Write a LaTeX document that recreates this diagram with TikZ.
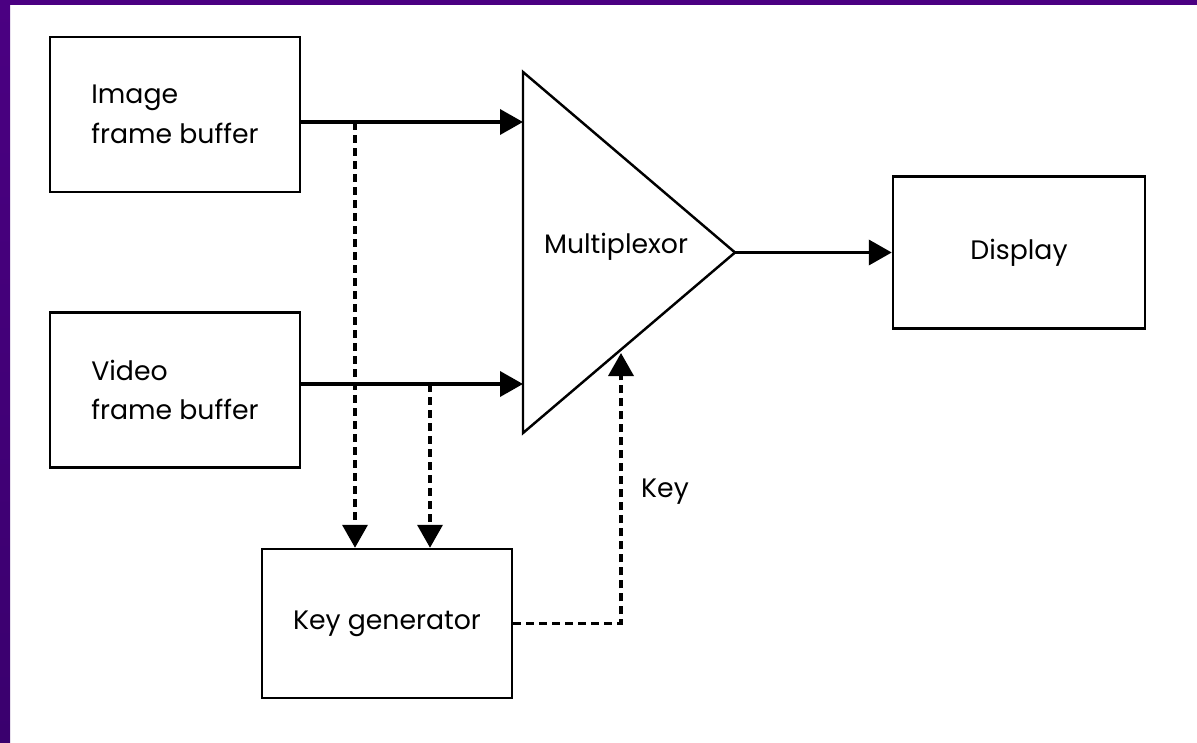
\documentclass[tikz,border=0pt]{standalone}
\usepackage{fontspec}
\setmainfont{Poppins}
\usepackage{tikz}
\usetikzlibrary{arrows.meta,positioning,calc}

\definecolor{framepurple}{RGB}{75,0,130}
\definecolor{framepurpledark}{RGB}{58,0,110}

\begin{document}
\begin{tikzpicture}[
        font=\fontsize{15.2}{22.5}\selectfont,
        >={Triangle[length=0.46cm,width=0.5cm]},
        % Block styles
        block/.style={
            rectangle,
            draw=black,
            line width=1.4pt,
            minimum width=5cm,
            minimum height=3.1cm,
            align=left
        },
        arrow/.style={->, line width=2.1pt},
        dashedarrow/.style={->, line width=2.1pt, dash pattern=on 0.16cm off 0.1cm}
    ]

    % Frame
    \useasboundingbox (0,0) rectangle (23.94,-14.84);
    \fill[white] (0,0) rectangle (23.94,-14.84);
    \shade[top color=framepurple, bottom color=framepurpledark] (0,0) rectangle (0.2,-14.84);
    \fill[framepurple] (0,0) rectangle (23.94,-0.1);

    % Buffers
    \node[block] (img) at (3.5,-2.29) {Image\\frame buffer};
    \node[block] (vid) at (3.5,-7.8) {Video\\frame buffer};

    % Multiplexor
    \coordinate (mtop) at (10.46,-1.44);
    \coordinate (mbot) at (10.46,-8.66);
    \coordinate (mout) at (14.7,-5.05);
    \draw[line width=1.4pt, line join=miter] (mtop) -- (mout) -- (mbot) -- cycle;
    \node (mux) at (12.32,-4.94) {Multiplexor};
    \coordinate (inA) at (10.46,-2.44);
    \coordinate (inB) at (10.46,-7.68);
    \coordinate (keyin) at (12.42,-7.06);
    \coordinate (tapA) at (7.1,-2.44);
    \coordinate (tapB) at (8.6,-7.68);

    % Display
    \node[block, minimum width=5.04cm, minimum height=3.04cm] (disp) at (20.38,-5.05) {Display};

    % Key generator
    \node[block, minimum height=2.98cm] (kgen) at (7.74,-12.47) {Key generator};
    \node (keylbl) at (13.3,-9.84) {Key};

    % Connections
    \draw[arrow] (img.east |- inA) -- (inA);
    \draw[arrow] (vid.east |- inB) -- (inB);
    \draw[arrow] (mout) -- (disp.west);

    \draw[dashedarrow] (tapA) -- (tapA |- kgen.north);
    \draw[dashedarrow] (tapB) -- (tapB |- kgen.north);
    \draw[dashedarrow] (kgen.east) -| (keyin);

\end{tikzpicture}
\end{document}
